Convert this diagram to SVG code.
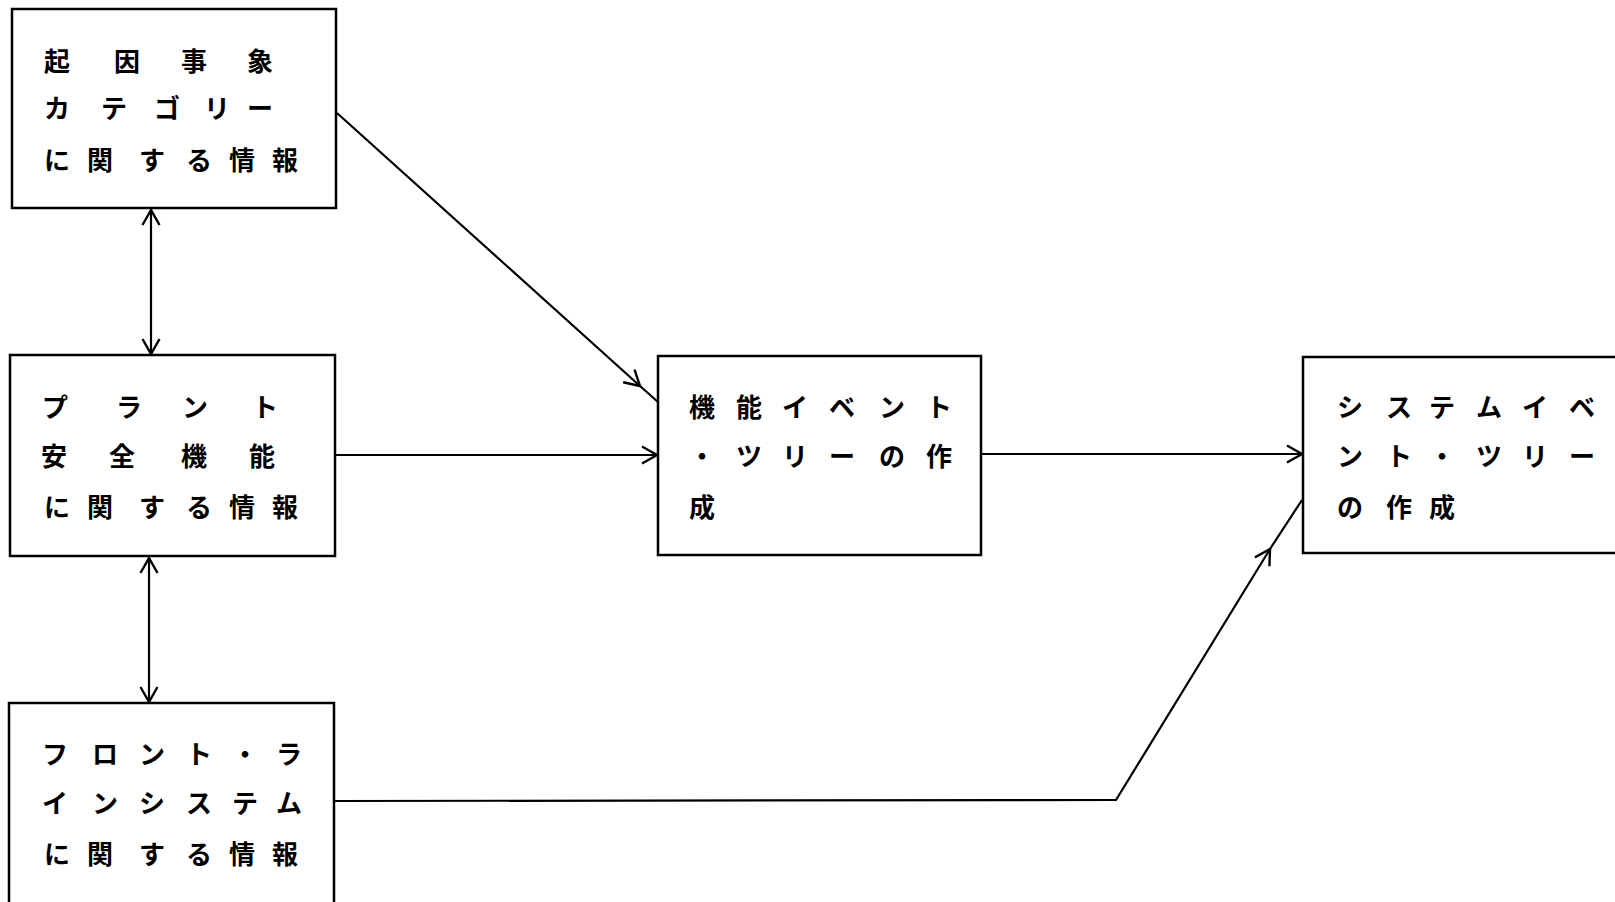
<svg xmlns="http://www.w3.org/2000/svg" width="1615" height="902" viewBox="0 0 1615 902">
<style>
.box{fill:#fff;stroke:#000;stroke-width:2.5}
.t{font-family:"Noto Sans CJK JP","Noto Sans CJK SC",sans-serif;font-size:26px;font-weight:700;fill:#000}
.c{fill:none;stroke:#000;stroke-width:2.2}
</style>
<defs>
<marker id="ah" markerUnits="userSpaceOnUse" markerWidth="22" markerHeight="22" viewBox="0 0 22 22" refX="20" refY="11" orient="auto-start-reverse">
<path d="M5,2.5 L20,11 L5,19.5" fill="none" stroke="#000" stroke-width="2.4"/>
</marker>
</defs>
<rect width="1615" height="902" fill="#fff"/>
<g id="connectors">
<line class="c" x1="151" y1="210" x2="151" y2="354" marker-start="url(#ah)" marker-end="url(#ah)"/>
<line class="c" x1="149" y1="558" x2="149" y2="702" marker-start="url(#ah)" marker-end="url(#ah)"/>
<line class="c" x1="337" y1="113" x2="640" y2="386" marker-end="url(#ah)"/>
<line class="c" x1="640" y1="386" x2="658" y2="402"/>
<line class="c" x1="335" y1="455" x2="657" y2="455" marker-end="url(#ah)"/>
<line class="c" x1="981" y1="454" x2="1302" y2="454" marker-end="url(#ah)"/>
<polyline class="c" points="334,801 1116,800 1270,549" marker-end="url(#ah)"/>
<line class="c" x1="1270" y1="549" x2="1302" y2="500"/>
</g>
<g id="n1">
<rect class="box" x="12" y="9" width="324" height="199"/>
<text class="t" x="44 114 181 247" y="71">起因事象</text>
<text class="t" x="44 101 154 204 247" y="118">カテゴリー</text>
<text class="t" x="44 87 139 186 229 272" y="170">に関する情報</text>
</g>
<g id="n2">
<rect class="box" x="10" y="355" width="325" height="201"/>
<text class="t" x="42 116 182 252" y="417">プラント</text>
<text class="t" x="41 109 181 249" y="466">安全機能</text>
<text class="t" x="44 87 139 186 229 272" y="517">に関する情報</text>
</g>
<g id="n3">
<rect class="box" x="9" y="703" width="325" height="215"/>
<text class="t" x="42 92 139 186 232 276" y="764">フロント・ラ</text>
<text class="t" x="42 92 139 186 232 276" y="813">インシステム</text>
<text class="t" x="44 87 139 186 229 272" y="864">に関する情報</text>
</g>
<g id="n4">
<rect class="box" x="658" y="356" width="323" height="199"/>
<text class="t" x="689 736 782 829 879 926" y="417">機能イベント</text>
<text class="t" x="689 736 782 829 879 926" y="466">・ツリーの作</text>
<text class="t" x="689" y="517">成</text>
</g>
<g id="n5">
<rect class="box" x="1303" y="357" width="330" height="196"/>
<text class="t" x="1337 1386 1429 1476 1522 1569" y="417">システムイベ</text>
<text class="t" x="1337 1386 1429 1476 1522 1569" y="466">ント・ツリー</text>
<text class="t" x="1337 1386 1429" y="517">の作成</text>
</g>
</svg>
